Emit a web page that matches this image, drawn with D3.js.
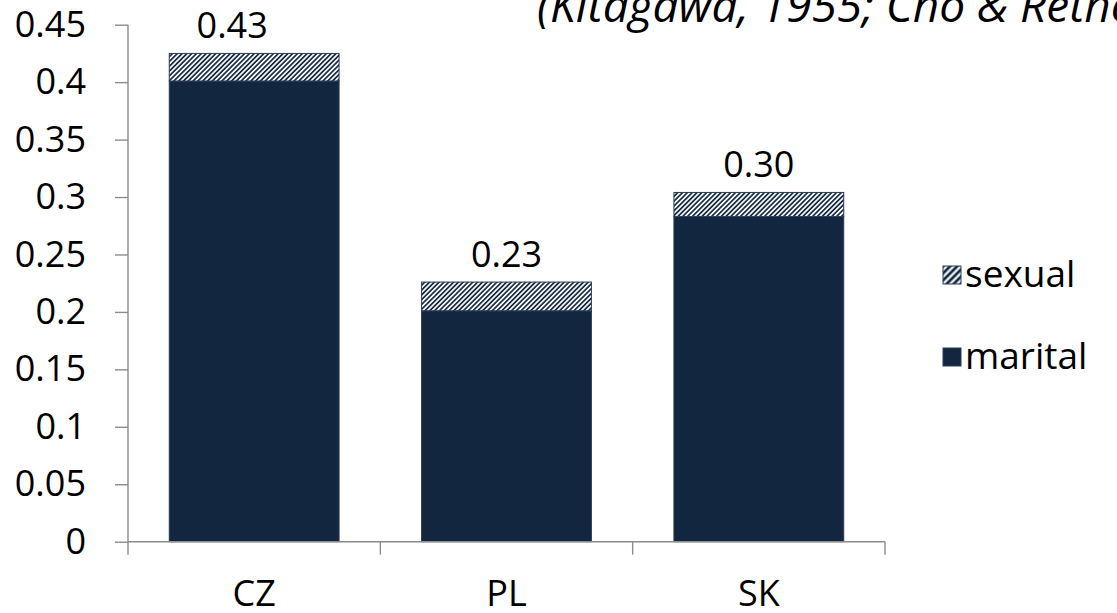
<!DOCTYPE html>
<html><head><meta charset="utf-8">
<script src="https://cdn.jsdelivr.net/npm/d3@7"></script>
<style>
html,body{margin:0;padding:0;background:#fff;}
svg text{font-family:"Open Sans",sans-serif;fill:#000;}
</style></head>
<body><svg id="chart" width="1117" height="613"></svg>
<script>
const categories = ["CZ", "PL", "SK"];
const marital = [0.401, 0.201, 0.283];
const sexual = [0.024, 0.025, 0.021];
const totalLabels = ["0.43", "0.23", "0.30"];
const yTicks = [0, 0.05, 0.1, 0.15, 0.2, 0.25, 0.3, 0.35, 0.4, 0.45];
const seriesNames = ["sexual", "marital"];
const titleText = "(Kitagawa, 1955; Cho & Retherford, 1973)";

const navy = "#12263f";
const axisColor = "#8c8c8c";
const svg = d3.select("#chart");

const defs = svg.append("defs");
const pat = defs.append("pattern").attr("id", "hatch")
  .attr("patternUnits", "userSpaceOnUse").attr("width", 3.4).attr("height", 3.4)
  .attr("patternTransform", "rotate(45)");
pat.append("rect").attr("width", 3.4).attr("height", 3.4).attr("fill", navy);
pat.append("rect").attr("x", 0.9).attr("width", 1.7).attr("height", 3.4).attr("fill", "#fff");

const legPat = defs.append("pattern").attr("id", "hatchLeg")
  .attr("patternUnits", "userSpaceOnUse").attr("width", 5).attr("height", 5)
  .attr("patternTransform", "rotate(45)");
legPat.append("rect").attr("width", 5).attr("height", 5).attr("fill", navy);
legPat.append("rect").attr("x", 1.5).attr("width", 2.2).attr("height", 5).attr("fill", "#fff");

const x = d3.scaleBand().domain(categories).range([128, 885]).paddingInner(0.327).paddingOuter(0.1635);
const y = d3.scaleLinear().domain([0, 0.45]).range([541.7, 24.7]);

// title
svg.append("text").attr("x", 537).attr("y", 22).attr("font-size", 46).attr("font-style", "italic").text(titleText);

// y axis
const yAxis = svg.append("g").attr("transform", "translate(128,0)")
  .call(d3.axisLeft(y).tickValues(yTicks).tickFormat(d => d3.format("")(d)).tickSize(13).tickPadding(29));
yAxis.selectAll("text").attr("font-size", 36).attr("fill", "#000").attr("font-family", "'Open Sans',sans-serif");
yAxis.selectAll("line,path").attr("stroke", axisColor).attr("stroke-width", 1.4);
yAxis.select(".domain").attr("d", `M0,${y(0.45)}V${y(0)}`);

// bars
const data = categories.map((c, i) => ({c, m: marital[i], s: sexual[i], label: totalLabels[i]}));
const g = svg.append("g");
g.selectAll("rect.m").data(data).join("rect").attr("class", "m")
  .attr("x", d => x(d.c)).attr("width", x.bandwidth())
  .attr("y", d => y(d.m)).attr("height", d => y(0) - y(d.m))
  .attr("fill", navy).attr("stroke", "#2a3d57").attr("stroke-width", 1);
g.selectAll("rect.s").data(data).join("rect").attr("class", "s")
  .attr("x", d => x(d.c)).attr("width", x.bandwidth())
  .attr("y", d => y(d.m + d.s)).attr("height", d => y(d.m) - y(d.m + d.s))
  .attr("fill", "url(#hatch)").attr("stroke", "#2a3d57").attr("stroke-width", 1);

// value labels
g.selectAll("text.v").data(data).join("text").attr("class", "v")
  .attr("x", d => x(d.c) + x.bandwidth() / 2).attr("dx", (d, i) => i === 0 ? -22 : 0)
  .attr("y", d => y(d.m + d.s) - 15).attr("text-anchor", "middle").attr("font-size", 36)
  .text(d => d.label);

// x axis
const xAxis = svg.append("g").attr("transform", `translate(0,${y(0)})`)
  .call(d3.axisBottom(x).tickSize(0).tickPadding(39));
xAxis.selectAll("text").attr("font-size", 36).attr("fill", "#000").attr("font-family", "'Open Sans',sans-serif");
xAxis.select(".domain").attr("d", "M128,0H885").attr("stroke", axisColor).attr("stroke-width", 1.4);
const edges = [128].concat(categories.map(c => x(c) + x.bandwidth() + x.step() * x.paddingInner() / 2));
edges[edges.length - 1] = 885;
xAxis.selectAll("line.b").data(edges).join("line").attr("class", "b")
  .attr("x1", d => d).attr("x2", d => d).attr("y1", 0).attr("y2", 13)
  .attr("stroke", axisColor).attr("stroke-width", 1.4);

// legend
const leg = svg.append("g");
seriesNames.forEach((name, i) => {
  const cy = i === 0 ? 275 : 357;
  leg.append("rect").attr("x", 943).attr("y", cy - 9).attr("width", 18).attr("height", 18)
    .attr("fill", i === 0 ? "url(#hatchLeg)" : navy).attr("stroke", "#2a3d57").attr("stroke-width", 1);
  leg.append("text").attr("x", 965).attr("y", cy + 12).attr("font-size", 37).text(name);
});
</script></body></html>
